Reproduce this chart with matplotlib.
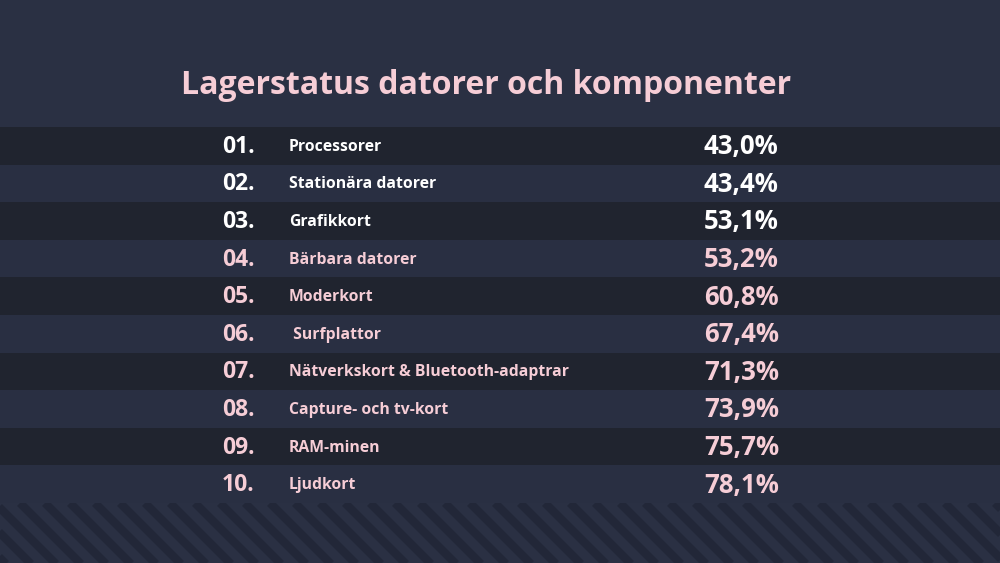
import matplotlib.pyplot as plt
from matplotlib.patches import Rectangle

# data
ranks = ["01.", "02.", "03.", "04.", "05.", "06.", "07.", "08.", "09.", "10."]
labels = ["Processorer", "Stationära datorer", "Grafikkort", "Bärbara datorer",
          "Moderkort", " Surfplattor", "Nätverkskort & Bluetooth-adaptrar",
          "Capture- och tv-kort", "RAM-minen", "Ljudkort"]
values = [43.0, 43.4, 53.1, 53.2, 60.8, 67.4, 71.3, 73.9, 75.7, 78.1]
title = "Lagerstatus datorer och komponenter"

# colours
bg = "#2a3043"
row_dark = "#20242f"
row_light = "#292f42"
stripe = "#222738"
white = "#ffffff"
pink = "#f6cdd6"

plt.rcParams['font.family'] = ['Open Sans', 'DejaVu Sans']

fig = plt.figure(figsize=(10, 5.63), dpi=100)
fig.patch.set_facecolor(bg)
ax = fig.add_axes([0, 0, 1, 1])
ax.set_facecolor(bg)
ax.set_xlim(0, 1000)
ax.set_ylim(563, 0)
ax.axis("off")

# table rows
row_top = 127
row_h = 37.6
n = len(labels)
ys = [row_top + row_h * (i + 0.5) for i in range(n)]
row_colors = [row_dark if i % 2 == 0 else row_light for i in range(n)]
ax.barh(ys, [1000] * n, height=row_h, left=0, color=row_colors, linewidth=0)

for i in range(n):
    c = white if i < 3 else pink
    y = ys[i] + 1
    ax.text(222, y, ranks[i], color=c, fontsize=16.5, fontweight="bold",
            ha="left", va="center")
    ax.text(289, y, labels[i], color=c, fontsize=11.3, fontweight="bold",
            ha="left", va="center")
    pct = "{:.1f}%".format(values[i]).replace(".", ",")
    ax.text(704, y, pct, color=c, fontsize=18.5, fontweight="bold",
            ha="left", va="center")

# title
ax.text(181, 86, title, color=pink, fontsize=23, fontweight="bold",
        ha="left", va="center")

# diagonal stripes at the bottom
bottom = row_top + row_h * n
clip = Rectangle((0, bottom), 1000, 563 - bottom, transform=ax.transData,
                 facecolor="none", edgecolor="none")
ax.add_patch(clip)
for x0 in range(-80, 1020, 25):
    ln, = ax.plot([x0, x0 + 80], [bottom, bottom + 80], color=stripe,
                  lw=6, solid_capstyle="butt")
    ln.set_clip_path(clip)

fig.savefig("out.png", dpi=100, facecolor=bg)
